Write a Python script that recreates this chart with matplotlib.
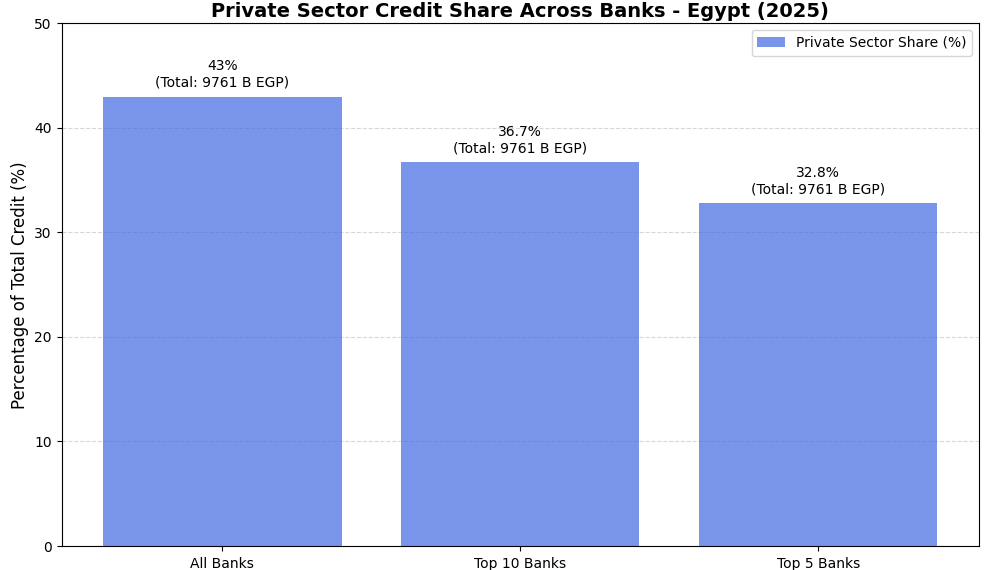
import matplotlib
matplotlib.use('Agg')
import matplotlib.pyplot as plt

categories = ['All Banks', 'Top 10 Banks', 'Top 5 Banks']
private_share = [43, 36.7, 32.8]
total_credit = [9761, 9761, 9761]

fig = plt.figure(figsize=(9.89, 5.70), dpi=100)
ax = fig.add_axes([0.0622, 0.0421, 0.9277, 0.9167])

bars = ax.bar(categories, private_share, color='royalblue', alpha=0.7, label='Private Sector Share (%)')
for bar, val, tot in zip(bars, private_share, total_credit):
    ax.annotate(f'{val:g}%\n(Total: {tot} B EGP)',
                (bar.get_x() + bar.get_width() / 2, bar.get_height()),
                xytext=(0, 5), textcoords='offset points',
                ha='center', va='bottom', fontsize=10)

ax.set_ylim(0, 50)
ax.set_ylabel('Percentage of Total Credit (%)', fontsize=12)
ax.set_title('Private Sector Credit Share Across Banks - Egypt (2025)', fontsize=14, fontweight='bold', pad=4.5)
ax.grid(axis='y', linestyle='--', alpha=0.5)
ax.set_axisbelow(True)
ax.legend(loc='upper right')
ax.tick_params(axis='x', pad=4.5)

fig.savefig('out.png', dpi=100)
